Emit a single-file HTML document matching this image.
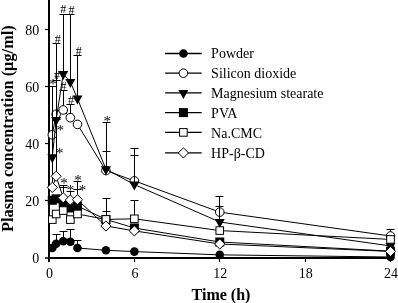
<!DOCTYPE html>
<html><head><meta charset="utf-8"><style>html,body{margin:0;padding:0;background:#fff;}svg{display:block;}</style></head>
<body>
<svg width="398" height="303" viewBox="0 0 398 303">
<rect width="398" height="303" fill="#fff"/>
<g stroke="#000">
<line x1="49" y1="0" x2="49" y2="262" stroke-width="2"/>
<line x1="48" y1="258" x2="391" y2="258" stroke-width="2"/>
<line x1="45" y1="29.5" x2="49" y2="29.5" stroke-width="1.2"/>
<line x1="45" y1="86.5" x2="49" y2="86.5" stroke-width="1.2"/>
<line x1="45" y1="143.5" x2="49" y2="143.5" stroke-width="1.2"/>
<line x1="45" y1="200.5" x2="49" y2="200.5" stroke-width="1.2"/>
<line x1="45" y1="258" x2="49" y2="258" stroke-width="1.5"/>
<line x1="134.5" y1="258" x2="134.5" y2="262" stroke-width="1.2"/>
<line x1="219.5" y1="258" x2="219.5" y2="262" stroke-width="1.2"/>
<line x1="305.5" y1="258" x2="305.5" y2="262" stroke-width="1.2"/>
<line x1="390.5" y1="258" x2="390.5" y2="262" stroke-width="1.2"/>
</g>
<g stroke="#000" stroke-width="1"><line x1="56.50" y1="243.80" x2="56.50" y2="234.50"/><line x1="52.50" y1="234.50" x2="60.50" y2="234.50"/><line x1="63.50" y1="241.20" x2="63.50" y2="231.50"/><line x1="59.50" y1="231.50" x2="67.50" y2="231.50"/><line x1="70.50" y1="241.80" x2="70.50" y2="229.50"/><line x1="66.50" y1="229.50" x2="74.50" y2="229.50"/><line x1="77.50" y1="248.00" x2="77.50" y2="240.50"/><line x1="73.50" y1="240.50" x2="81.50" y2="240.50"/></g>
<polyline points="52.30,248.00 56.12,243.80 63.23,241.20 70.34,241.80 77.46,248.00 105.92,250.28 134.38,251.60 219.76,254.86 390.52,257.00" fill="none" stroke="#000" stroke-width="1"/>
<circle cx="52.30" cy="248.00" r="4.3" fill="#000"/><circle cx="56.12" cy="243.80" r="4.3" fill="#000"/><circle cx="63.23" cy="241.20" r="4.3" fill="#000"/><circle cx="70.34" cy="241.80" r="4.3" fill="#000"/><circle cx="77.46" cy="248.00" r="4.3" fill="#000"/><circle cx="105.92" cy="250.28" r="4.3" fill="#000"/><circle cx="134.38" cy="251.60" r="4.3" fill="#000"/><circle cx="219.76" cy="254.86" r="4.3" fill="#000"/><circle cx="390.52" cy="257.00" r="4.3" fill="#000"/>
<g stroke="#000" stroke-width="1"><line x1="56.50" y1="114.27" x2="56.50" y2="80.50"/><line x1="52.50" y1="80.50" x2="60.50" y2="80.50"/><line x1="63.50" y1="109.98" x2="63.50" y2="90.50"/><line x1="59.50" y1="90.50" x2="67.50" y2="90.50"/><line x1="70.50" y1="117.70" x2="70.50" y2="104.50"/><line x1="66.50" y1="104.50" x2="74.50" y2="104.50"/><line x1="134.50" y1="180.85" x2="134.50" y2="148.50"/><line x1="130.50" y1="148.50" x2="138.50" y2="148.50"/><line x1="219.50" y1="212.11" x2="219.50" y2="196.50"/><line x1="215.50" y1="196.50" x2="223.50" y2="196.50"/><line x1="390.50" y1="236.00" x2="390.50" y2="229.50"/><line x1="386.50" y1="229.50" x2="394.50" y2="229.50"/></g>
<polyline points="52.30,134.84 56.12,114.27 63.23,109.98 70.34,117.70 77.46,124.41 105.92,170.56 134.38,180.85 219.76,212.11 390.52,236.00" fill="none" stroke="#000" stroke-width="1"/>
<circle cx="52.30" cy="134.84" r="4.3" fill="#fff" stroke="#000" stroke-width="1"/><circle cx="56.12" cy="114.27" r="4.3" fill="#fff" stroke="#000" stroke-width="1"/><circle cx="63.23" cy="109.98" r="4.3" fill="#fff" stroke="#000" stroke-width="1"/><circle cx="70.34" cy="117.70" r="4.3" fill="#fff" stroke="#000" stroke-width="1"/><circle cx="77.46" cy="124.41" r="4.3" fill="#fff" stroke="#000" stroke-width="1"/><circle cx="105.92" cy="170.56" r="4.3" fill="#fff" stroke="#000" stroke-width="1"/><circle cx="134.38" cy="180.85" r="4.3" fill="#fff" stroke="#000" stroke-width="1"/><circle cx="219.76" cy="212.11" r="4.3" fill="#fff" stroke="#000" stroke-width="1"/><circle cx="390.52" cy="236.00" r="4.3" fill="#fff" stroke="#000" stroke-width="1"/>
<g stroke="#000" stroke-width="1"><line x1="56.50" y1="119.98" x2="56.50" y2="43.50"/><line x1="52.50" y1="43.50" x2="60.50" y2="43.50"/><line x1="63.50" y1="73.98" x2="63.50" y2="14.50"/><line x1="59.50" y1="14.50" x2="67.50" y2="14.50"/><line x1="70.50" y1="81.98" x2="70.50" y2="14.50"/><line x1="66.50" y1="14.50" x2="74.50" y2="14.50"/><line x1="77.50" y1="98.55" x2="77.50" y2="55.50"/><line x1="73.50" y1="55.50" x2="81.50" y2="55.50"/><line x1="106.50" y1="169.13" x2="106.50" y2="122.50"/><line x1="102.50" y1="122.50" x2="110.50" y2="122.50"/><line x1="106.50" y1="169.13" x2="106.50" y2="151.50"/><line x1="102.50" y1="151.50" x2="110.50" y2="151.50"/><line x1="134.50" y1="184.56" x2="134.50" y2="155.50"/><line x1="130.50" y1="155.50" x2="138.50" y2="155.50"/><line x1="219.50" y1="222.00" x2="219.50" y2="206.50"/><line x1="215.50" y1="206.50" x2="223.50" y2="206.50"/></g>
<polyline points="52.30,157.13 56.12,119.98 63.23,73.98 70.34,81.98 77.46,98.55 105.92,169.13 134.38,184.56 219.76,222.00 390.52,245.91" fill="none" stroke="#000" stroke-width="1"/>
<polygon points="47.30,154.13 57.30,154.13 52.30,163.13" fill="#000"/><polygon points="51.12,116.98 61.12,116.98 56.12,125.98" fill="#000"/><polygon points="58.23,70.98 68.23,70.98 63.23,79.98" fill="#000"/><polygon points="65.34,78.98 75.34,78.98 70.34,87.98" fill="#000"/><polygon points="72.46,95.55 82.46,95.55 77.46,104.55" fill="#000"/><polygon points="100.92,166.13 110.92,166.13 105.92,175.13" fill="#000"/><polygon points="129.38,181.56 139.38,181.56 134.38,190.56" fill="#000"/><polygon points="214.76,219.00 224.76,219.00 219.76,228.00" fill="#000"/><polygon points="385.52,242.91 395.52,242.91 390.52,251.91" fill="#000"/>
<g stroke="#000" stroke-width="1"><line x1="106.50" y1="219.42" x2="106.50" y2="211.50"/><line x1="102.50" y1="211.50" x2="110.50" y2="211.50"/><line x1="63.50" y1="203.14" x2="63.50" y2="185.50"/><line x1="59.50" y1="185.50" x2="67.50" y2="185.50"/></g>
<polyline points="52.30,200.28 56.12,198.85 63.23,203.14 70.34,207.99 77.46,205.99 105.92,219.42 134.38,228.00 219.76,242.00 390.52,251.14" fill="none" stroke="#000" stroke-width="1"/>
<rect x="47.80" y="195.78" width="9.00" height="9.00" fill="#000"/><rect x="51.62" y="194.35" width="9.00" height="9.00" fill="#000"/><rect x="58.73" y="198.64" width="9.00" height="9.00" fill="#000"/><rect x="65.84" y="203.49" width="9.00" height="9.00" fill="#000"/><rect x="72.96" y="201.49" width="9.00" height="9.00" fill="#000"/><rect x="101.42" y="214.92" width="9.00" height="9.00" fill="#000"/><rect x="129.88" y="223.50" width="9.00" height="9.00" fill="#000"/><rect x="215.26" y="237.50" width="9.00" height="9.00" fill="#000"/><rect x="386.02" y="246.64" width="9.00" height="9.00" fill="#000"/>
<g stroke="#000" stroke-width="1"><line x1="106.50" y1="219.42" x2="106.50" y2="198.50"/><line x1="102.50" y1="198.50" x2="110.50" y2="198.50"/><line x1="134.50" y1="218.80" x2="134.50" y2="200.50"/><line x1="130.50" y1="200.50" x2="138.50" y2="200.50"/></g>
<polyline points="52.30,219.60 56.12,213.99 63.23,210.57 70.34,219.60 77.46,213.99 105.92,219.42 134.38,218.80 219.76,230.57 390.52,239.43" fill="none" stroke="#000" stroke-width="1"/>
<rect x="48.50" y="215.80" width="7.60" height="7.60" fill="#fff" stroke="#000" stroke-width="1"/><rect x="52.32" y="210.19" width="7.60" height="7.60" fill="#fff" stroke="#000" stroke-width="1"/><rect x="59.43" y="206.77" width="7.60" height="7.60" fill="#fff" stroke="#000" stroke-width="1"/><rect x="66.55" y="215.80" width="7.60" height="7.60" fill="#fff" stroke="#000" stroke-width="1"/><rect x="73.66" y="210.19" width="7.60" height="7.60" fill="#fff" stroke="#000" stroke-width="1"/><rect x="102.12" y="215.62" width="7.60" height="7.60" fill="#fff" stroke="#000" stroke-width="1"/><rect x="130.58" y="215.00" width="7.60" height="7.60" fill="#fff" stroke="#000" stroke-width="1"/><rect x="215.96" y="226.77" width="7.60" height="7.60" fill="#fff" stroke="#000" stroke-width="1"/><rect x="386.72" y="235.63" width="7.60" height="7.60" fill="#fff" stroke="#000" stroke-width="1"/>
<g stroke="#000" stroke-width="1"><line x1="52.50" y1="187.42" x2="52.50" y2="86.50"/><line x1="48.50" y1="86.50" x2="56.50" y2="86.50"/><line x1="56.50" y1="176.28" x2="56.50" y2="119.50"/><line x1="52.50" y1="119.50" x2="60.50" y2="119.50"/><line x1="63.50" y1="197.71" x2="63.50" y2="187.50"/><line x1="59.50" y1="187.50" x2="67.50" y2="187.50"/><line x1="70.50" y1="199.99" x2="70.50" y2="191.50"/><line x1="66.50" y1="191.50" x2="74.50" y2="191.50"/><line x1="77.50" y1="199.71" x2="77.50" y2="181.50"/><line x1="73.50" y1="181.50" x2="81.50" y2="181.50"/><line x1="77.50" y1="199.71" x2="77.50" y2="189.50"/><line x1="73.50" y1="189.50" x2="81.50" y2="189.50"/></g>
<polyline points="52.30,187.42 56.12,176.28 63.23,197.71 70.34,199.99 77.46,199.71 105.92,226.00 134.38,230.85 219.76,244.00 390.52,251.43" fill="none" stroke="#000" stroke-width="1"/>
<polygon points="52.30,182.32 57.40,187.42 52.30,192.52 47.20,187.42" fill="#fff" stroke="#000" stroke-width="1"/><polygon points="56.12,171.18 61.22,176.28 56.12,181.38 51.02,176.28" fill="#fff" stroke="#000" stroke-width="1"/><polygon points="63.23,192.61 68.33,197.71 63.23,202.81 58.13,197.71" fill="#fff" stroke="#000" stroke-width="1"/><polygon points="70.34,194.89 75.44,199.99 70.34,205.09 65.25,199.99" fill="#fff" stroke="#000" stroke-width="1"/><polygon points="77.46,194.61 82.56,199.71 77.46,204.81 72.36,199.71" fill="#fff" stroke="#000" stroke-width="1"/><polygon points="105.92,220.90 111.02,226.00 105.92,231.10 100.82,226.00" fill="#fff" stroke="#000" stroke-width="1"/><polygon points="134.38,225.75 139.48,230.85 134.38,235.95 129.28,230.85" fill="#fff" stroke="#000" stroke-width="1"/><polygon points="219.76,238.90 224.86,244.00 219.76,249.10 214.66,244.00" fill="#fff" stroke="#000" stroke-width="1"/><polygon points="390.52,246.33 395.62,251.43 390.52,256.53 385.42,251.43" fill="#fff" stroke="#000" stroke-width="1"/>
<g font-family="Liberation Serif, serif" text-anchor="middle" fill="#000"><text x="63.25" y="13" font-size="12">#</text><text x="71.55" y="14" font-size="12">#</text><text x="57.85" y="43" font-size="12">#</text><text x="78.80" y="55" font-size="12">#</text><text x="63.45" y="90" font-size="12">#</text><text x="71.10" y="104" font-size="12">#</text><text x="56.90" y="79" font-size="12">#</text><text x="53.10" y="89" font-size="15">*</text><text x="60.20" y="135" font-size="15">*</text><text x="59.70" y="158" font-size="15">*</text><text x="63.90" y="188" font-size="15">*</text><text x="70.50" y="195" font-size="15">*</text><text x="77.90" y="185" font-size="15">*</text><text x="82.50" y="195" font-size="15">*</text><text x="107.20" y="126" font-size="15">*</text></g>
<g font-family="Liberation Serif, serif" font-size="14" fill="#000"><text x="39.3" y="263.20" text-anchor="end">0</text><text x="39.3" y="206.05" text-anchor="end">20</text><text x="39.3" y="148.90" text-anchor="end">40</text><text x="39.3" y="91.75" text-anchor="end">60</text><text x="39.3" y="34.60" text-anchor="end">80</text><text x="49.50" y="277.6" text-anchor="middle">0</text><text x="134.88" y="277.6" text-anchor="middle">6</text><text x="220.26" y="277.6" text-anchor="middle">12</text><text x="305.64" y="277.6" text-anchor="middle">18</text><text x="391.02" y="277.6" text-anchor="middle">24</text></g>
<text x="221" y="299.8" font-family="Liberation Serif, serif" font-size="16" font-weight="bold" text-anchor="middle">Time (h)</text>
<text transform="translate(12.7,128.6) rotate(-90)" font-family="Liberation Serif, serif" font-size="16.4" font-weight="bold" text-anchor="middle">Plasma concentration (μg/ml)</text>
<line x1="165.1" y1="53.5" x2="201.7" y2="53.5" stroke="#000" stroke-width="1.3"/><circle cx="183.40" cy="53.50" r="4.3" fill="#000"/><text x="211.1" y="58.20" font-family="Liberation Serif, serif" font-size="14">Powder</text><line x1="165.1" y1="73.2" x2="201.7" y2="73.2" stroke="#000" stroke-width="1.3"/><circle cx="183.40" cy="73.20" r="4.3" fill="#fff" stroke="#000" stroke-width="1"/><text x="211.1" y="77.80" font-family="Liberation Serif, serif" font-size="14">Silicon dioxide</text><line x1="165.1" y1="92.9" x2="201.7" y2="92.9" stroke="#000" stroke-width="1.3"/><polygon points="178.40,89.90 188.40,89.90 183.40,98.90" fill="#000"/><text x="211.1" y="97.60" font-family="Liberation Serif, serif" font-size="14">Magnesium stearate</text><line x1="165.1" y1="112.6" x2="201.7" y2="112.6" stroke="#000" stroke-width="1.3"/><rect x="178.90" y="108.10" width="9.00" height="9.00" fill="#000"/><text x="211.1" y="117.80" font-family="Liberation Serif, serif" font-size="14">PVA</text><line x1="165.1" y1="132.4" x2="201.7" y2="132.4" stroke="#000" stroke-width="1.3"/><rect x="179.60" y="128.60" width="7.60" height="7.60" fill="#fff" stroke="#000" stroke-width="1"/><text x="211.1" y="137.60" font-family="Liberation Serif, serif" font-size="14">Na.CMC</text><line x1="165.1" y1="152.9" x2="201.7" y2="152.9" stroke="#000" stroke-width="1.3"/><polygon points="183.40,147.80 188.50,152.90 183.40,158.00 178.30,152.90" fill="#fff" stroke="#000" stroke-width="1"/><text x="211.1" y="158.40" font-family="Liberation Serif, serif" font-size="14">HP-β-CD</text>
</svg>
</body></html>
